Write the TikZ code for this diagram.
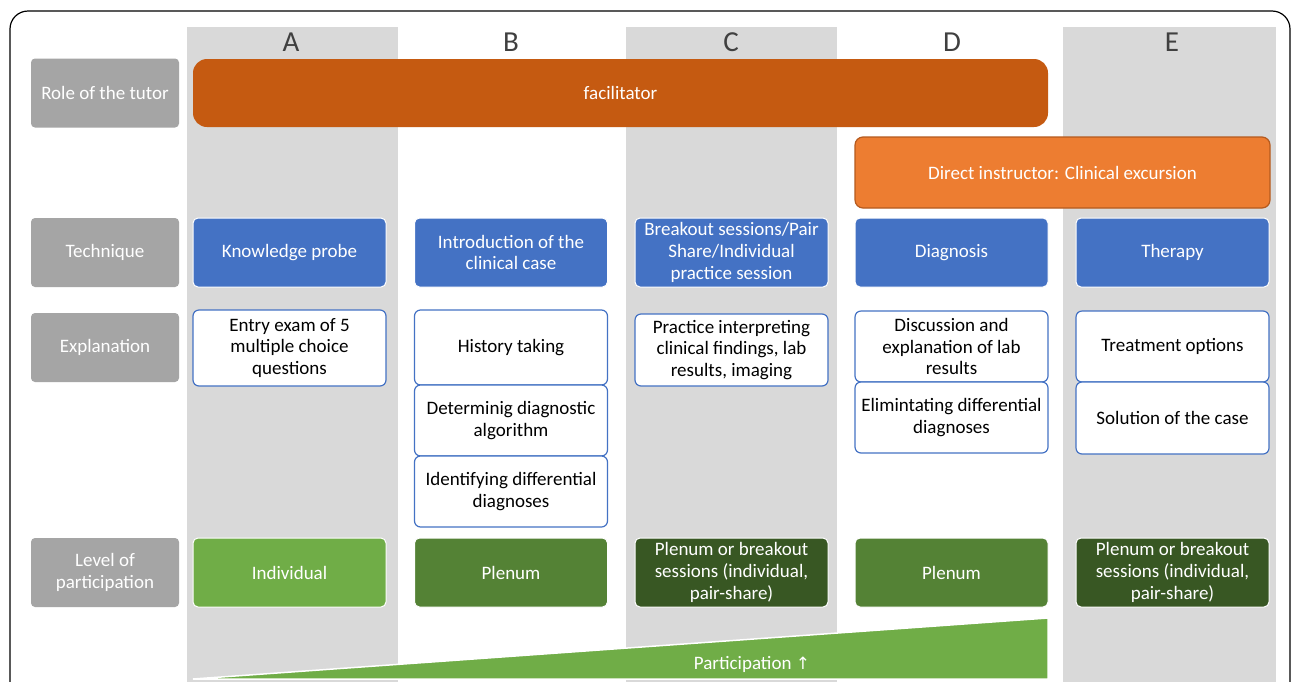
\documentclass[tikz,border=0pt]{standalone}
\usepackage{fontspec}
\setmainfont{Carlito}
\newfontfamily\arrowfont{DejaVu Sans}
\definecolor{stripegray}{HTML}{D9D9D9}
\definecolor{labelgray}{HTML}{A5A5A5}
\definecolor{letterdark}{HTML}{404040}
\definecolor{rust}{HTML}{C55A11}
\definecolor{orangefill}{HTML}{ED7D31}
\definecolor{orangeedge}{HTML}{B55A1E}
\definecolor{techblue}{HTML}{4472C4}
\definecolor{greenlight}{HTML}{70AD47}
\definecolor{greenmid}{HTML}{548235}
\definecolor{greendark}{HTML}{385723}
\begin{document}
\begin{tikzpicture}[x=1pt,y=-1pt,
  every node/.style={font=\fontsize{19}{21.7}\selectfont, align=center, inner sep=0pt, outer sep=0pt},
  stripe/.style={fill=stripegray, draw=none},
  colletter/.style={font=\fontsize{29}{34}\selectfont, text=letterdark},
  rowlabel/.style={fill=labelgray, text=white, rounded corners=4pt, minimum width=148pt, minimum height=69pt},
  techbox/.style={fill=techblue, draw=white, line width=1pt, text=white, rounded corners=5pt, minimum width=193pt, minimum height=69pt},
  textbox/.style={fill=white, draw=techblue, line width=1.2pt, text=black, rounded corners=6pt, minimum width=193pt},
  levelbox/.style={draw=white, line width=1pt, text=white, rounded corners=5pt, minimum width=193pt, minimum height=69pt},
]
\useasboundingbox (0,0) rectangle (1292,681);
\clip (0,0) rectangle (1292,681);
\fill[white] (0,0) rectangle (1292,681);

% shaded columns A, C, E
\fill[stripe] (187,27) rectangle (398,690);
\fill[stripe] (626,27) rectangle (837,690);
\fill[stripe] (1063,27) rectangle (1276,690);

% outer frame
\draw[black, line width=1.2pt, rounded corners=18pt] (10,11) rectangle (1290,720);

% column headings
\node[colletter] (hA) at (291,42) {A};
\node[colletter] (hB) at (511,42) {B};
\node[colletter] (hC) at (731,42) {C};
\node[colletter] (hD) at (952,42) {D};
\node[colletter] (hE) at (1172,42) {E};

% row labels
\node[rowlabel] (lRole) at (105,93) {Role of the tutor};
\node[rowlabel] (lTech) at (105,252.5) {Technique};
\node[rowlabel] (lExpl) at (105,347.5) {Explanation};
\node[rowlabel] (lLevel) at (105,572.5) {Level of\\participation};

% role of the tutor
\node[fill=rust, text=white, rounded corners=14pt, minimum width=855pt, minimum height=68pt] (facil) at (620.5,93) {facilitator};
\node[fill=orangefill, draw=orangeedge, line width=1.2pt, text=white, rounded corners=8pt, minimum width=415pt, minimum height=71pt] (direct) at (1062.5,172.5) {Direct instructor: Clinical excursion};

% techniques
\node[techbox] (tA) at (289.5,252.5) {Knowledge probe};
\node[techbox] (tB) at (511,252.5) {Introduction of the\\clinical case};
\node[techbox] (tC) at (731.5,252.5) {Breakout sessions/Pair\\Share/Individual\\practice session};
\node[techbox] (tD) at (951.5,252.5) {Diagnosis};
\node[techbox] (tE) at (1172.5,252.5) {Therapy};

% explanations
\node[textbox, minimum height=76pt] (eA) at (289.5,348) {Entry exam of 5\\multiple choice\\questions};
\node[textbox, minimum height=75pt] (eB1) at (511,347.5) {History taking};
\node[textbox, minimum height=71pt] (eB2) at (511,420.5) {Determinig diagnostic\\algorithm};
\node[textbox, minimum height=71pt] (eB3) at (511,491.5) {Identifying differential\\diagnoses};
\node[textbox, minimum height=72pt] (eC) at (731.5,350) {Practice interpreting\\clinical findings, lab\\results, imaging};
\node[textbox, minimum height=71pt] (eD1) at (951.5,346.5) {Discussion and\\explanation of lab\\results};
\node[textbox, minimum height=71pt] (eD2) at (951.5,417.5) {Elimintating differential\\diagnoses};
\node[textbox, minimum height=71pt] (eE1) at (1172.5,346.5) {Treatment options};
\node[textbox, minimum height=72pt] (eE2) at (1172.5,418) {Solution of the case};

% level of participation
\node[levelbox, fill=greenlight] (pA) at (289.5,572.5) {Individual};
\node[levelbox, fill=greenmid] (pB) at (511,572.5) {Plenum};
\node[levelbox, fill=greendark] (pC) at (731.5,572.5) {Plenum or breakout\\sessions (individual,\\pair-share)};
\node[levelbox, fill=greenmid] (pD) at (951.5,572.5) {Plenum};
\node[levelbox, fill=greendark] (pE) at (1172.5,572.5) {Plenum or breakout\\sessions (individual,\\pair-share)};

% rising participation wedge
\filldraw[fill=greenlight, draw=white, line width=1.5pt] (193,679) -- (1048,618) -- (1048,679) -- cycle;
\node[text=white] (partic) at (752,664) {Participation {\arrowfont\fontsize{17}{20}\selectfont ↑}};
\end{tikzpicture}
\end{document}
